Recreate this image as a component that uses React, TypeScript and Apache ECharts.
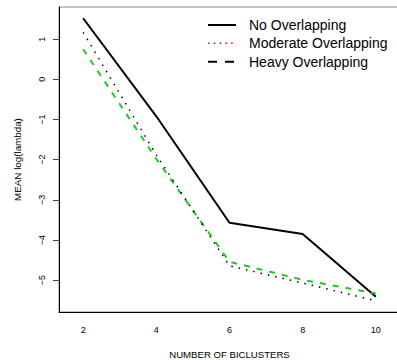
import React, { useEffect, useRef } from "react";
import * as echarts from "echarts";

const xValues = [2, 4, 6, 8, 10];
const noOverlap = [1.52, -0.92, -3.57, -3.85, -5.41];
const moderate = [1.17, -1.88, -4.64, -5.07, -5.51];
const heavy = [0.75, -1.98, -4.54, -4.99, -5.33];
const yTicks = [-5, -4, -3, -2, -1, 0, 1];
const xTicks = [2, 4, 6, 8, 10];
const legendNames = ["No Overlapping", "Moderate Overlapping", "Heavy Overlapping"];

const FONT = "'Liberation Sans', Arial, Helvetica, sans-serif";

export default function App() {
  const ref = useRef<HTMLDivElement>(null);
  useEffect(() => {
    if (!ref.current) return;
    const chart = echarts.init(ref.current, null, { renderer: "svg" });
    const pairs = (ys: number[]) => xValues.map((x, i) => [x, ys[i]]);
    const legendY = [25, 43.3, 61.7];
    const legendLineStyles: any[] = [
      { stroke: "#000", lineWidth: 2 },
      { stroke: "#ff0000", lineWidth: 1.5, lineDash: [1.5, 4.3] },
      { stroke: "#000", lineWidth: 2, lineDash: [9, 8] },
    ];
    const graphics: any[] = [];
    legendNames.forEach((name, i) => {
      graphics.push({
        type: "line",
        shape: { x1: 208, y1: legendY[i], x2: 236, y2: legendY[i] },
        style: legendLineStyles[i],
      });
      graphics.push({
        type: "text",
        x: 249,
        y: legendY[i],
        style: {
          text: name,
          font: `14px ${FONT}`,
          fill: "#000",
          textVerticalAlign: "middle",
          textAlign: "left",
        },
      });
    });
    chart.setOption({
      animation: false,
      backgroundColor: "#fff",
      grid: {
        left: 59,
        top: 7,
        width: 341,
        height: 305,
        show: true,
        borderColor: "#888",
        borderWidth: 1,
        containLabel: false,
        outerBoundsMode: "none",
      },
      xAxis: {
        type: "value",
        min: 1.34,
        max: 10.66,
        name: "NUMBER OF BICLUSTERS",
        nameLocation: "middle",
        nameGap: 37,
        nameTextStyle: { fontFamily: FONT, fontSize: 9.6, color: "#000" },
        axisLine: { show: true, onZero: false, lineStyle: { color: "#000", width: 1 } },
        axisTick: { show: false },
        splitLine: { show: false },
        axisLabel: {
          customValues: xTicks,
          fontFamily: FONT,
          fontSize: 9,
          color: "#000",
          margin: 13,
        },
      },
      yAxis: {
        type: "value",
        min: -5.79,
        max: 1.8,
        name: "MEAN log(lambda)",
        nameLocation: "middle",
        nameGap: 37,
        nameTextStyle: { fontFamily: FONT, fontSize: 9.8, color: "#000" },
        axisLine: { show: true, onZero: false, lineStyle: { color: "#000", width: 1 } },
        axisTick: {
          show: true,
          customValues: yTicks,
          length: 6,
          lineStyle: { color: "#444", width: 1 },
        },
        splitLine: { show: false },
        axisLabel: {
          customValues: yTicks,
          rotate: 90,
          fontFamily: FONT,
          fontSize: 9,
          color: "#000",
          margin: 13,
          formatter: (v: number) => (v < 0 ? "\u2212" + Math.abs(v) : String(v)),
        },
      },
      series: [
        {
          name: legendNames[0],
          type: "line",
          data: pairs(noOverlap),
          showSymbol: false,
          lineStyle: { color: "#000", width: 2 },
          z: 2,
        },
        {
          name: legendNames[2],
          type: "line",
          data: pairs(heavy),
          showSymbol: false,
          lineStyle: { color: "#1ccc1c", width: 2, type: [6, 7] },
          z: 3,
        },
        {
          name: legendNames[1],
          type: "line",
          data: pairs(moderate),
          showSymbol: false,
          lineStyle: { color: "#000", width: 1.5, type: [1.5, 6] },
          z: 4,
        },
      ],
      graphic: graphics,
    });
    return () => chart.dispose();
  }, []);
  return (
    <div
      ref={ref}
      style={{ position: "fixed", left: 0, top: 0, width: 397, height: 360, background: "#fff" }}
    />
  );
}
